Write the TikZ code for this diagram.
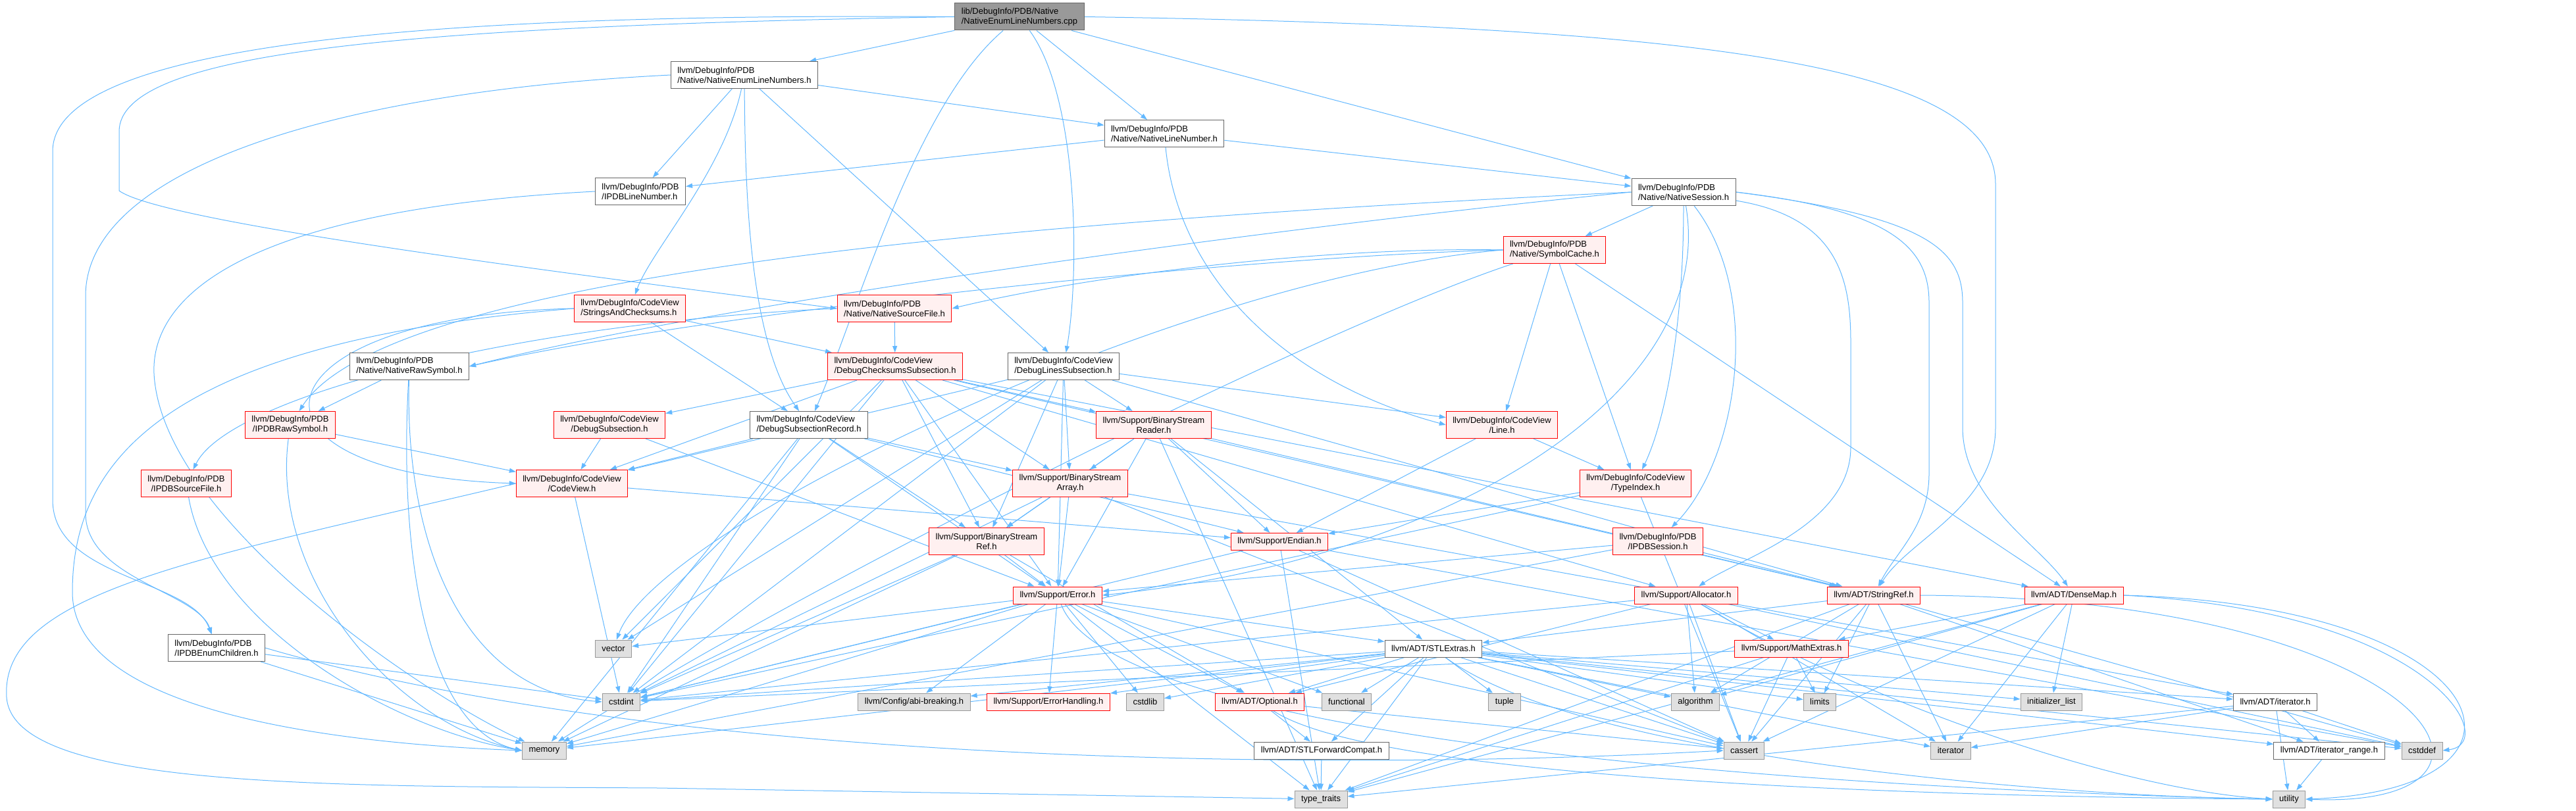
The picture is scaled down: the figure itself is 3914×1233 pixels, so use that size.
\documentclass[tikz,border=0pt]{standalone}
\usepackage{fontspec}
\setmainfont{Liberation Sans}
\usetikzlibrary{arrows.meta}
\pgfdeclarelayer{bg}
\pgfsetlayers{bg,main}
\definecolor{edgeblue}{HTML}{63B8FF}
\definecolor{redfill}{HTML}{FFF0F0}
\definecolor{redline}{HTML}{FF0000}
\definecolor{grayfill}{HTML}{E0E0E0}
\definecolor{grayline}{HTML}{999999}
\definecolor{whiteline}{HTML}{666666}
\definecolor{rootfill}{HTML}{999999}
\tikzset{
  box/.style={rectangle, line width=1pt, font=\fontsize{13}{15}\selectfont, inner xsep=10pt, inner ysep=1pt},
  twol/.style={minimum height=41pt},
  onel/.style={minimum height=26pt},
  wbox/.style={box, draw=whiteline, fill=white},
  rbox/.style={box, draw=redline, fill=redfill},
  gbox/.style={box, draw=grayline, fill=grayfill, onel},
  rootbox/.style={box, draw=whiteline, fill=rootfill, twol, align=left},
  dep/.style={draw=edgeblue, line width=1pt, -{Triangle[length=10pt,width=7pt]}},
}
\begin{document}
\begin{tikzpicture}[x=1pt,y=-1pt]
\useasboundingbox (0,0) rectangle (3914,1233);
% nodes
\node[rootbox] (root) at (1549,25.5) {lib/DebugInfo/PDB/Native\\/NativeEnumLineNumbers.cpp};
\node[wbox,twol,align=left] (neln) at (1131,114) {llvm/DebugInfo/PDB\\/Native/NativeEnumLineNumbers.h};
\node[wbox,twol,align=left] (nln) at (1769,203) {llvm/DebugInfo/PDB\\/Native/NativeLineNumber.h};
\node[wbox,twol,align=left] (ipdbln) at (973,291) {llvm/DebugInfo/PDB\\/IPDBLineNumber.h};
\node[wbox,twol,align=left] (ns) at (2558,292) {llvm/DebugInfo/PDB\\/Native/NativeSession.h};
\node[rbox,twol,align=left] (sc) at (2362,380) {llvm/DebugInfo/PDB\\/Native/SymbolCache.h};
\node[rbox,twol,align=left] (sac) at (957,469) {llvm/DebugInfo/CodeView\\/StringsAndChecksums.h};
\node[rbox,twol,align=left] (nsf) at (1359,469) {llvm/DebugInfo/PDB\\/Native/NativeSourceFile.h};
\node[wbox,twol,align=left] (nrs) at (622,557) {llvm/DebugInfo/PDB\\/Native/NativeRawSymbol.h};
\node[rbox,twol,align=left] (dcs) at (1360,557) {llvm/DebugInfo/CodeView\\/DebugChecksumsSubsection.h};
\node[wbox,twol,align=left] (dls) at (1616,557) {llvm/DebugInfo/CodeView\\/DebugLinesSubsection.h};
\node[rbox,twol,align=center] (ipdbrs) at (441,646) {llvm/DebugInfo/PDB\\/IPDBRawSymbol.h};
\node[rbox,twol,align=center] (ds) at (926,646) {llvm/DebugInfo/CodeView\\/DebugSubsection.h};
\node[wbox,twol,align=left] (dsr) at (1229,646) {llvm/DebugInfo/CodeView\\/DebugSubsectionRecord.h};
\node[rbox,twol,align=center] (bsr) at (1753,646) {llvm/Support/BinaryStream\\Reader.h};
\node[rbox,twol,align=center] (line) at (2282,646) {llvm/DebugInfo/CodeView\\/Line.h};
\node[rbox,twol,align=center] (ipdbsf) at (283,735) {llvm/DebugInfo/PDB\\/IPDBSourceFile.h};
\node[rbox,twol,align=center] (cv) at (869,735) {llvm/DebugInfo/CodeView\\/CodeView.h};
\node[rbox,twol,align=center] (bsa) at (1626,735) {llvm/Support/BinaryStream\\Array.h};
\node[rbox,twol,align=center] (ti) at (2485,735) {llvm/DebugInfo/CodeView\\/TypeIndex.h};
\node[rbox,twol,align=center] (bsref) at (1499,823) {llvm/Support/BinaryStream\\Ref.h};
\node[rbox,onel] (endian) at (1944,823.5) {llvm/Support/Endian.h};
\node[rbox,twol,align=center] (ipdbs) at (2519,823) {llvm/DebugInfo/PDB\\/IPDBSession.h};
\node[rbox,onel] (err) at (1607,905) {llvm/Support/Error.h};
\node[rbox,onel] (alloc) at (2562,905) {llvm/Support/Allocator.h};
\node[rbox,onel] (sref) at (2847,905) {llvm/ADT/StringRef.h};
\node[rbox,onel] (dmap) at (3151,905) {llvm/ADT/DenseMap.h};
\node[wbox,twol,align=left] (ipdbec) at (329,985) {llvm/DebugInfo/PDB\\/IPDBEnumChildren.h};
\node[gbox] (vector) at (932,986) {vector};
\node[wbox,onel] (stle) at (2178,986) {llvm/ADT/STLExtras.h};
\node[rbox,onel] (mext) at (2722,986) {llvm/Support/MathExtras.h};
\node[gbox] (cstdint) at (944,1067) {cstdint};
\node[gbox] (abi) at (1389,1067) {llvm/Config/abi-breaking.h};
\node[rbox,onel] (eh) at (1593,1067) {llvm/Support/ErrorHandling.h};
\node[gbox] (cstdlib) at (1740,1067) {cstdlib};
\node[rbox,onel] (opt) at (1914,1067) {llvm/ADT/Optional.h};
\node[gbox] (functional) at (2046,1067) {functional};
\node[gbox] (tuple) at (2286,1067) {tuple};
\node[gbox] (algorithm) at (2576,1067) {algorithm};
\node[gbox] (limits) at (2765,1067) {limits};
\node[gbox] (initlist) at (3117,1067) {initializer\_list};
\node[wbox,onel] (iterh) at (3457,1067) {llvm/ADT/iterator.h};
\node[gbox] (memory) at (827,1141) {memory};
\node[wbox,onel] (stlfc) at (2008,1141) {llvm/ADT/STLForwardCompat.h};
\node[gbox] (cassert) at (2650,1141) {cassert};
\node[gbox] (iterator) at (2964,1141) {iterator};
\node[wbox,onel] (itrange) at (3539,1141) {llvm/ADT/iterator\_range.h};
\node[gbox] (cstddef) at (3680,1141) {cstddef};
\node[gbox] (ttraits) at (2007,1215) {type\_traits};
\node[gbox] (utility) at (3478,1215) {utility};
% edges
\begin{pgfonlayer}{bg}
\foreach \a/\b in {root/neln, root/nln, root/ns,
  neln/nln, neln/ipdbln, neln/dls,
  nln/ipdbln, nln/ns,
  ns/sc,
  sc/line, sc/ti, sc/dmap,
  sac/dcs, sac/dsr,
  nsf/dcs,
  nrs/ipdbrs,
  dcs/ds, dcs/cv, dcs/bsr, dcs/bsa, dcs/bsref, dcs/err, dcs/dmap, dcs/sref, dcs/alloc, dcs/cstdint, dcs/vector,
  dls/cv, dls/line, dls/bsa, dls/bsr, dls/bsref, dls/err, dls/sref, dls/cstdint, dls/vector,
  ds/cv, ds/err,
  dsr/cv, dsr/bsa, dsr/bsref, dsr/err, dsr/endian, dsr/cstdint, dsr/memory,
  bsr/bsa, bsr/bsref, bsr/endian, bsr/err, bsr/stle, bsr/sref, bsr/ttraits,
  bsa/bsref, bsa/err, bsa/iterh, bsa/cassert, bsa/cstdint,
  bsref/err, bsref/opt, bsref/cstdint, bsref/memory,
  line/ti, line/endian,
  cv/endian, cv/cstdint,
  ti/endian, ti/cassert, ti/cstdint,
  ipdbrs/cv,
  ipdbec/cstdint, ipdbec/memory,
  ipdbs/sref, ipdbs/err, ipdbs/memory,
  endian/cassert, endian/cstddef, endian/cstdint, endian/ttraits,
  err/vector, err/cstdint, err/memory, err/abi, err/eh, err/cstdlib, err/opt, err/stle, err/functional, err/cassert, err/ttraits,
  alloc/mext, alloc/algorithm, alloc/cassert, alloc/cstddef, alloc/cstdint, alloc/iterator, alloc/opt,
  sref/stle, sref/itrange, sref/algorithm, sref/cassert, sref/cstddef, sref/limits, sref/ttraits, sref/iterator,
  dmap/mext, dmap/algorithm, dmap/cassert, dmap/initlist, dmap/iterator, dmap/ttraits,
  mext/limits, mext/cassert, mext/cstdint, mext/ttraits,
  stle/stlfc, stle/iterh, stle/itrange, stle/abi, stle/eh, stle/algorithm, stle/cassert, stle/cstddef, stle/cstdint, stle/cstdlib, stle/functional, stle/initlist, stle/iterator, stle/limits, stle/memory, stle/opt, stle/tuple, stle/ttraits,
  opt/stlfc, opt/cassert,
  stlfc/ttraits,
  iterh/itrange, iterh/cstddef, iterh/iterator, iterh/ttraits, iterh/utility,
  itrange/utility}
  \draw[dep] (\a) -- (\b);
% curved connectors
\draw[dep] (root.west) .. controls (700,20) and (80,60) .. (80,230) -- (80,760) .. controls (80,880) and (290,880) .. (ipdbec);
\draw[dep] (root.west) .. controls (600,40) and (181,80) .. (181,200) -- (181,290) .. controls (250,340) and (900,420) .. (nsf.west);
\draw[dep] (root.east) .. controls (2600,40) and (3032,100) .. (3032,280) -- (3032,650) .. controls (3032,770) and (2900,820) .. (sref);
\draw[dep] (root) .. controls (1390,160) and (1300,480) .. (dsr);
\draw[dep] (root) .. controls (1640,150) and (1640,420) .. (dls);
\draw[dep] (neln.west) .. controls (500,140) and (130,260) .. (130,450) -- (130,780) .. controls (130,880) and (300,900) .. (ipdbec);
\draw[dep] (neln) .. controls (1100,260) and (990,380) .. (sac);
\draw[dep] (neln) .. controls (1132,300) and (1140,520) .. (dsr);
\draw[dep] (nln) .. controls (1790,420) and (1950,580) .. (line.west);
\draw[dep] (ns.west) .. controls (1900,350) and (1100,460) .. (nrs.east);
\draw[dep] (ns.west) .. controls (1700,330) and (600,400) .. (ipdbrs);
\draw[dep] (ns) .. controls (2558,500) and (2530,640) .. (ti);
\draw[dep] (ns) .. controls (2610,600) and (2200,850) .. (err.east);
\draw[dep] (ns) .. controls (2680,450) and (2640,700) .. (ipdbs);
\draw[dep] (ns) .. controls (2790,330) and (2812,420) .. (2812,520) -- (2812,680) .. controls (2812,800) and (2640,850) .. (alloc);
\draw[dep] (ns.east) .. controls (2880,320) and (2931,380) .. (2931,460) -- (2931,720) .. controls (2931,800) and (2880,840) .. (sref);
\draw[dep] (ns.east) .. controls (2930,330) and (2982,380) .. (2982,460) -- (2982,650) .. controls (2982,760) and (3100,830) .. (dmap);
\draw[dep] (sc.west) .. controls (2000,375) and (1650,420) .. (nsf.east);
\draw[dep] (sc.west) .. controls (1900,390) and (1100,470) .. (nrs.east);
\draw[dep] (sc.west) .. controls (1800,420) and (1000,800) .. (vector);
\draw[dep] (sc) .. controls (2000,500) and (1200,900) .. (memory);
\draw[dep] (sac.west) .. controls (380,480) and (330,720) .. (cv.west);
\draw[dep] (sac.west) .. controls (250,520) and (110,700) .. (110,900) .. controls (110,1080) and (500,1130) .. (memory.west);
\draw[dep] (nsf.west) .. controls (800,490) and (350,600) .. (ipdbsf);
\draw[dep] (nrs) .. controls (615,820) and (700,1050) .. (cstdint.west);
\draw[dep] (nrs) .. controls (605,850) and (650,1110) .. (memory.west);
\draw[dep] (ipdbrs) .. controls (410,880) and (600,1100) .. (memory.west);
\draw[dep] (ipdbsf) .. controls (320,950) and (600,1110) .. (memory.west);
\draw[dep] (ipdbln.west) .. controls (350,320) and (220,460) .. (235,580) .. controls (260,800) and (650,1060) .. (memory);
\draw[dep] (ipdbec.east) .. controls (1000,1160) and (2000,1175) .. (cassert.west);
\draw[dep] (cv.west) .. controls (300,850) and (0,900) .. (10,1060) .. controls (20,1200) and (500,1195) .. (1000,1198) -- (ttraits);
\draw[dep] (opt) .. controls (2100,1190) and (3000,1212) .. (utility.west);
\draw[dep] (err) .. controls (1700,1150) and (3000,1205) .. (utility.west);
\draw[dep] (stle) .. controls (2400,1150) and (3100,1210) .. (utility.west);
\draw[dep] (alloc) .. controls (2800,1050) and (3200,1200) .. (utility.west);
\draw[dep] (dmap.east) .. controls (3800,920) and (3900,1200) .. (utility.east);
\draw[dep] (sref.east) .. controls (3700,910) and (3880,1230) .. (utility.east);
\draw[dep] (dmap.east) .. controls (3700,930) and (3800,1130) .. (cstddef.east);
\end{pgfonlayer}
\end{tikzpicture}
\end{document}
